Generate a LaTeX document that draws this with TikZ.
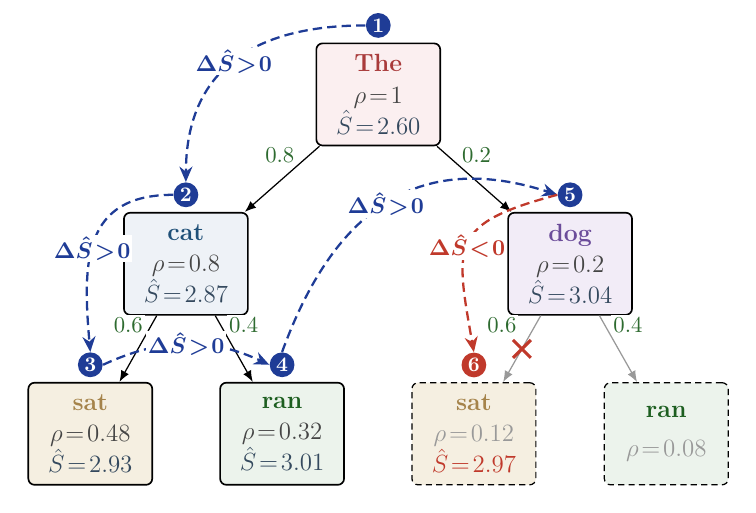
\documentclass[11pt,tikz,border=0pt]{standalone}
\usepackage{amsmath,amssymb}
\usetikzlibrary{arrows.meta,positioning,shapes.misc}
\definecolor{pathc}{HTML}{1F3C96}
\definecolor{attc}{HTML}{C0392B}
\definecolor{probc}{HTML}{2E6B30}
\definecolor{rhoc}{HTML}{454545}
\definecolor{scorec}{HTML}{34495E}
\definecolor{greyc}{HTML}{999999}
\definecolor{thet}{HTML}{A93B3B}
\definecolor{thef}{HTML}{FBEFF0}
\definecolor{catt}{HTML}{1F5078}
\definecolor{catf}{HTML}{EEF2F7}
\definecolor{dogt}{HTML}{6B4C9A}
\definecolor{dogf}{HTML}{F2ECF7}
\definecolor{satt}{HTML}{A5834A}
\definecolor{satf}{HTML}{F5EFE1}
\definecolor{rant}{HTML}{1D5E20}
\definecolor{ranf}{HTML}{ECF3EC}
\tikzset{
  tok/.style    ={draw,thick,rounded corners=3pt,minimum width=2.1cm,
                  minimum height=1.73cm,align=center,inner sep=2pt,font=\large,
                  execute at begin node={\thickmuskip=2mu\relax}},
  pruned/.style ={tok,semithick,dash pattern=on 3pt off 2pt},
  branch/.style ={semithick,-{Latex[length=1.9mm,width=1.5mm]}},
  cut/.style    ={branch,draw=greyc},
  prob/.style   ={text=probc,fill=white,inner sep=1pt},
  badge/.style  ={circle,fill=pathc,text=white,font=\small\bfseries,
                  inner sep=0pt,minimum size=0.42cm},
  jump/.style   ={line width=1.1pt,draw=pathc,dash pattern=on 4.5pt off 2.5pt,
                  -{Stealth[length=2.6mm,width=2.2mm]}},
  gain/.style   ={fill=white,inner sep=1pt,text=pathc,font=\boldmath,
                  execute at begin node={\thickmuskip=1.5mu\relax}},
}
\begin{document}
\begin{tikzpicture}
    \useasboundingbox (0,0) rectangle (12.81,8.69);

    % tokens
    \node[tok,fill=thef] (the) at (6.41,7.09)
      {\textcolor{thet}{\textbf{The}}\\[1pt]\textcolor{rhoc}{$\rho=1$}\\[1pt]\textcolor{scorec}{$\hat{S}=2.60$}};
    \node[tok,fill=catf] (cat) at (3.15,4.22)
      {\textcolor{catt}{\textbf{cat}}\\[1pt]\textcolor{rhoc}{$\rho=0.8$}\\[1pt]\textcolor{scorec}{$\hat{S}=2.87$}};
    \node[tok,fill=dogf] (dog) at (9.66,4.22)
      {\textcolor{dogt}{\textbf{dog}}\\[1pt]\textcolor{rhoc}{$\rho=0.2$}\\[1pt]\textcolor{scorec}{$\hat{S}=3.04$}};
    \node[tok,fill=satf] (sat) at (1.53,1.34)
      {\textcolor{satt}{\textbf{sat}}\\[1pt]\textcolor{rhoc}{$\rho=0.48$}\\[1pt]\textcolor{scorec}{$\hat{S}=2.93$}};
    \node[tok,fill=ranf] (ran) at (4.78,1.34)
      {\textcolor{rant}{\textbf{ran}}\\[1pt]\textcolor{rhoc}{$\rho=0.32$}\\[1pt]\textcolor{scorec}{$\hat{S}=3.01$}};
    \node[pruned,fill=satf] (sat2) at (8.03,1.34)
      {\textcolor{satt}{\textbf{sat}}\\[1pt]\textcolor{greyc}{$\rho=0.12$}\\[1pt]\textcolor{attc}{$\hat{S}=2.97$}};
    \node[pruned,fill=ranf] (ran2) at (11.29,1.34)
      {\textcolor{rant}{\textbf{ran}}\\[5pt]\textcolor{greyc}{$\rho=0.08$}};

    % branches
    \draw[branch] (the) -- node[pos=0.3,above left,prob] {0.8} (cat);
    \draw[branch] (the) -- node[pos=0.3,above right,prob] {0.2} (dog);
    \draw[branch] (cat) -- node[pos=0.3,above left,prob] {0.6} (sat);
    \draw[branch] (cat) -- node[pos=0.3,above right,prob] {0.4} (ran);
    \draw[cut] (dog) -- node[pos=0.3,above left,prob,xshift=-5pt] {0.6}
      node[pos=0.5,cross out,draw=attc,line width=1.5pt,minimum size=2.5mm,inner sep=0pt] (x) {} (sat2);
    \draw[cut] (dog) -- node[pos=0.3,above right,prob] {0.4} (ran2);

    % search order
    \node[badge] (s1) at ([yshift=0.29cm]the.north) {1};
    \node[badge] (s2) at ([yshift=0.29cm]cat.north) {2};
    \node[badge] (s3) at ([yshift=0.29cm]sat.north) {3};
    \node[badge] (s4) at ([yshift=0.29cm]ran.north) {4};
    \node[badge] (s5) at ([yshift=0.29cm]dog.north) {5};
    \node[badge,fill=attc] (s6) at ([yshift=0.29cm]sat2.north) {6};

    \draw[jump] (s1.west) to[out=180,in=90,looseness=1.2]
      node[pos=0.5,gain] {$\Delta\hat{S}>0$} (s2.north);
    \draw[jump] (s2.west) to[out=180,in=95,looseness=1.3]
      node[pos=0.55,gain] {$\Delta\hat{S}>0$} (s3.north);
    \draw[jump] (s3.east) to[out=25,in=155]
      node[pos=0.5,gain] {$\Delta\hat{S}>0$} (s4.west);
    \draw[jump] (s4.north) to[out=70,in=162,looseness=1.2]
      node[pos=0.5,gain] {$\Delta\hat{S}>0$} (s5.west);
    \draw[jump,draw=attc] (s5.west) to[out=195,in=100,looseness=1.6]
      node[pos=0.52,gain,text=attc] {$\Delta\hat{S}<0$} (s6.north);
  \end{tikzpicture}
\end{document}
